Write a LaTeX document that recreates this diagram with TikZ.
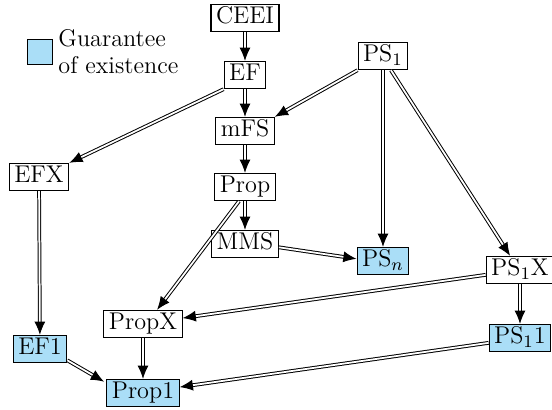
\documentclass[tikz,border=0pt]{standalone}
\usetikzlibrary{arrows.meta}
\definecolor{exist}{RGB}{170,222,247}
\begin{document}
\begin{tikzpicture}[x=0.4545pt,y=-0.4545pt,font=\fontsize{11}{12.5}\selectfont,
  box/.style={draw,line width=0.5pt,inner xsep=2.3pt,inner ysep=1.3pt,text height=7.6pt,text depth=2.2pt,fill=white},
  gbox/.style={box,fill=exist},
  imp/.style={double,line width=0.45pt,double distance=0.8pt,-{Latex[length=6pt,width=5pt]}}]
\useasboundingbox (0,0) rectangle (552,409);
\node[draw,fill=exist,line width=0.5pt,minimum size=11.5pt,inner sep=0pt] (leg) at (40,52) {};
\node[anchor=north west,align=left,inner sep=0pt] (legt) at (58,29) {Guarantee\\of existence};
\node[box] (CEEI) at (245,18) {CEEI};
\node[box] (EF) at (245,75) {EF};
\node[box] (PS1) at (383,56) {PS$_1$};
\node[box] (mFS) at (245,131) {mFS};
\node[box] (Prop) at (245,187) {Prop};
\node[box] (EFX) at (39,177) {EFX};
\node[box] (MMS) at (245,244) {MMS};
\node[gbox] (PSn) at (383,261) {PS$_n$};
\node[box] (PS1X) at (520,270) {PS$_1$X};
\node[gbox] (PS11) at (520,338) {PS$_1$1};
\node[box] (PropX) at (143,324) {PropX};
\node[gbox] (EF1) at (40,349) {EF1};
\node[gbox] (Prop1) at (143,393) {Prop1};
\draw[imp] (CEEI) -- (EF);
\draw[imp] (EF) -- (mFS);
\draw[imp] (EF.south west) -- (EFX.north east);
\draw[imp] (PS1.south west) -- (mFS.north east);
\draw[imp] (PS1) -- (PSn);
\draw[imp] ([xshift=3.6pt]PS1.south) -- ([xshift=-4.5pt]PS1X.north);
\draw[imp] (mFS) -- (Prop);
\draw[imp] (Prop) -- (MMS);
\draw[imp] ([xshift=-2.7pt]Prop.south) -- ([xshift=6.4pt]PropX.north);
\draw[imp] ([yshift=-1.5pt]MMS.east) -- ([yshift=1pt]PSn.west);
\draw[imp] (EFX) -- (EF1);
\draw[imp] ([yshift=-2.2pt]PS1X.west) -- ([yshift=2.7pt]PropX.east);
\draw[imp] (PS1X) -- (PS11);
\draw[imp] (PropX) -- (Prop1);
\draw[imp] ([yshift=1.3pt]EF1.south east) -- ([xshift=-1pt,yshift=-1.3pt]Prop1.north west);
\draw[imp] ([yshift=-2.2pt]PS11.west) -- ([yshift=2.7pt]Prop1.east);
\end{tikzpicture}
\end{document}
